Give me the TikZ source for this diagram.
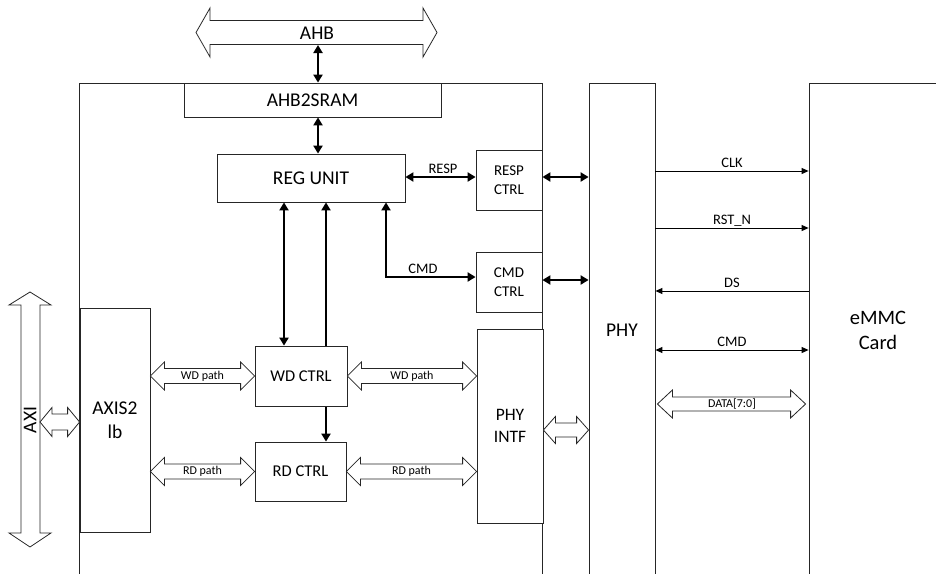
\documentclass[tikz,border=0pt]{standalone}
\usepackage{fontspec}
\setmainfont{Carlito}
\usetikzlibrary{arrows.meta,calc}
\newcommand{\hblock}[6][]{%
  \draw[blockarrow,#1] let \p1=#2, \p2=#3 in
   (\x1,\y1) -- (\x1+#6,\y1+#5) -- (\x1+#6,\y1+#4) -- (\x2-#6,\y1+#4) -- (\x2-#6,\y1+#5) -- (\x2,\y1)
   -- (\x2-#6,\y1-#5) -- (\x2-#6,\y1-#4) -- (\x1+#6,\y1-#4) -- (\x1+#6,\y1-#5) -- cycle;}
\begin{document}
\begin{tikzpicture}[x=1pt,y=-1pt,
  box/.style={draw=black!85, line width=0.8pt, fill=white, inner sep=0pt, align=center},
  big/.style={font=\fontsize{19.5}{24}\selectfont},
  mid/.style={font=\fontsize{16.5}{20}\selectfont},
  sml/.style={font=\fontsize{15}{18.5}\selectfont},
  thk/.style={line width=2pt, arrows={Triangle[length=8pt,width=9pt]-Triangle[length=8pt,width=9pt]}},
  sig/.style={line width=0.9pt},
  tipR/.style={arrows={-Triangle[length=7pt,width=6pt]}},
  tipB/.style={arrows={Triangle[length=7pt,width=6pt]-Triangle[length=7pt,width=6pt]}},
  blockarrow/.style={draw=black!85, line width=0.8pt, fill=white, line join=miter},
  plbl/.style={font=\fontsize{12}{14}\selectfont, inner sep=0pt},
  slbl/.style={font=\fontsize{14.5}{17}\selectfont, anchor=base, yshift=3.5pt, inner sep=0pt}
]
\useasboundingbox (0,0) rectangle (936,573);

% large open-bottom blocks
\node[box, fill=none, minimum width=463pt, minimum height=494pt] (ctrl) at (310.5,330) {};
\node[box, big, minimum width=66pt, minimum height=494pt] (phy) at (622,330) {PHY};
\node[box, big, font=\fontsize{20.5}{25}\selectfont, minimum width=138pt, minimum height=494pt] (emmc) at (878,330) {eMMC\\Card};

% AHB bus
\hblock{(196,32.5)}{(437,32.5)}{12pt}{24.5pt}{14pt}
\node[big, inner sep=0pt] (ahb) at (317,33) {AHB};

% inner blocks
\node[box, big, minimum width=257pt, minimum height=34pt] (sram) at (312.5,100) {AHB2SRAM};
\node[box, big, minimum width=188pt, minimum height=48pt] (reg) at (311,178) {REG UNIT};
\node[box, sml, minimum width=66pt, minimum height=60pt] (respc) at (509,180) {RESP\\CTRL};
\node[box, sml, minimum width=66pt, minimum height=60pt] (cmdc) at (509,282) {CMD\\CTRL};
\node[box, big, minimum width=70pt, minimum height=224pt] (axis) at (115,420) {AXIS2\\lb};
\node[box, mid, minimum width=91pt, minimum height=59pt] (rd) at (300.5,471.5) {RD CTRL};
\coordinate (xB) at (326,0);
\draw[thk] (rd.north -| xB) -- (reg.south -| xB);
\node[box, mid, minimum width=92pt, minimum height=60pt] (wd) at (301,376) {WD CTRL};
\node[box, font=\fontsize{17.5}{21.5}\selectfont, minimum width=66pt, minimum height=194pt] (pintf) at (510,426) {PHY\\INTF};

% thick connectors
\coordinate (ahbb) at (318,45);
\draw[thk] (ahbb) -- (ahbb |- sram.north);
\draw[thk] (ahbb |- sram.south) -- (ahbb |- reg.north);
\draw[thk] ([yshift=1pt]reg.east) -- ([yshift=1pt]reg.east -| respc.west);
\node[slbl] at (443,177) {RESP};
\draw[thk] ([yshift=3pt]respc.east) -- ([yshift=3pt]respc.east -| phy.west);
\coordinate (cc) at (386,277);
\draw[thk] (cc |- reg.south) -- (cc) -- (cc -| cmdc.west);
\node[slbl] at (423,277) {CMD};
\draw[thk] ([yshift=2pt]cmdc.east) -- ([yshift=2pt]cmdc.east -| phy.west);
\coordinate (xA) at (284,0);
\draw[thk] (reg.south -| xA) -- (wd.north -| xA);

% data paths
\hblock{(axis.east |- wd.west)}{(wd.west)}{7.5pt}{14pt}{14pt}
\node[plbl] at ($(axis.east |- wd.west)!0.5!(wd.west)$) {WD path};
\hblock{(axis.east |- rd.west)}{(rd.west)}{7.5pt}{14pt}{14pt}
\node[plbl] at ($(axis.east |- rd.west)!0.5!(rd.west)$) {RD path};
\hblock{(wd.east)}{(wd.east -| pintf.west)}{7.5pt}{14pt}{14pt}
\node[plbl] at ($(wd.east)!0.5!(wd.east -| pintf.west)$) {WD path};
\hblock{(rd.east)}{(rd.east -| pintf.west)}{7.5pt}{14pt}{14pt}
\node[plbl] at ($(rd.east)!0.5!(rd.east -| pintf.west)$) {RD path};
\hblock{([yshift=-4pt]pintf.east)}{([yshift=-4pt]pintf.east -| phy.west)}{7pt}{13.5pt}{12pt}

% AXI bus
\draw[blockarrow] (30,292) -- (51,305) -- (40,305) -- (40,533) -- (51,533) -- (30,547)
  -- (9,533) -- (21,533) -- (21,305) -- (9,305) -- cycle;
\node[big, rotate=90, inner sep=0pt] (axi) at (30,420) {AXI};
\coordinate (axir) at (40,422);
\hblock{(axir)}{(axir -| axis.west)}{8pt}{14.5pt}{12pt}

% PHY <-> eMMC signals
\coordinate (yclk) at (0,171);
\coordinate (yrst) at (0,228);
\coordinate (yds) at (0,291);
\coordinate (ycmd) at (0,350);
\coordinate (ydat) at (0,404);
\draw[sig, tipR] (phy.east |- yclk) -- node[slbl] {CLK} (emmc.west |- yclk);
\draw[sig, tipR] (phy.east |- yrst) -- node[slbl] {RST\_N} (emmc.west |- yrst);
\draw[sig, tipR] (emmc.west |- yds) -- node[slbl] {DS} (phy.east |- yds);
\draw[sig, tipB] (phy.east |- ycmd) -- node[slbl] {CMD} (emmc.west |- ycmd);
\hblock{($(phy.east |- ydat)+(2,0)$)}{($(emmc.west |- ydat)+(-3,0)$)}{7pt}{14pt}{15pt}
\node[plbl] at ($(phy.east |- ydat)!0.5!(emmc.west |- ydat)$) {DATA[7:0]};
\end{tikzpicture}
\end{document}
